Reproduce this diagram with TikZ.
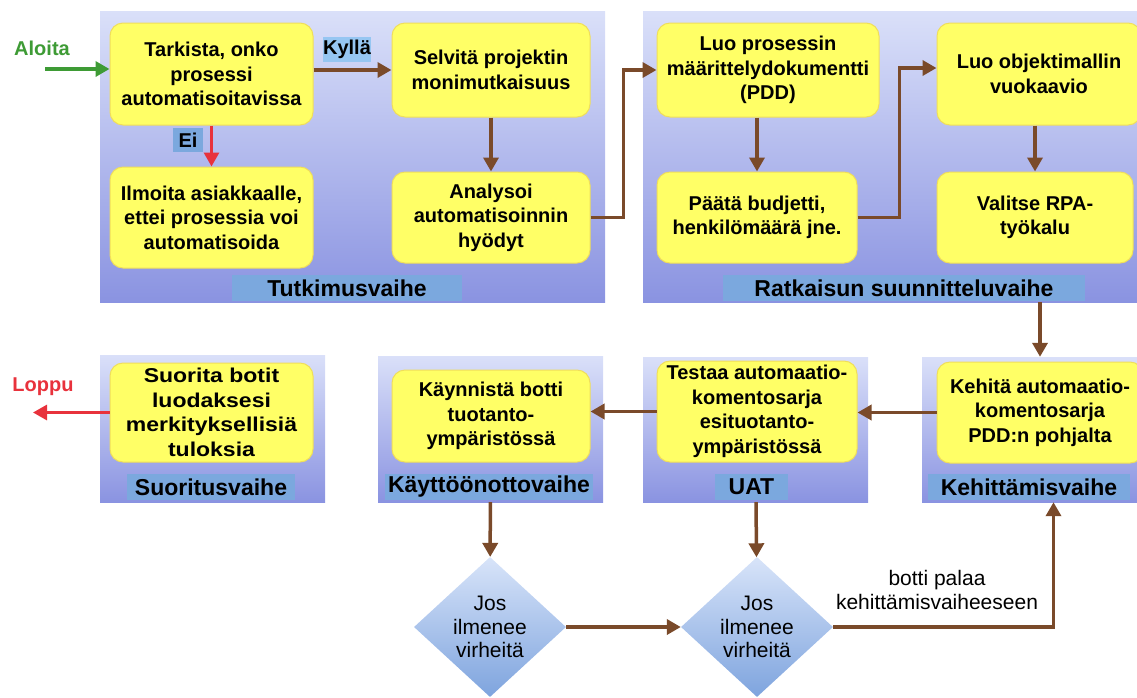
\documentclass[tikz,border=0pt]{standalone}
\usepackage{fontspec}
\setmainfont{Liberation Sans}
\newfontfamily\widefont[FakeStretch=1.15]{Liberation Sans}
\usetikzlibrary{arrows.meta,shapes.geometric}
\definecolor{PanelTop}{RGB}{218,224,249}
\definecolor{PanelBot}{RGB}{138,147,225}
\definecolor{BandBlue}{RGB}{123,168,222}
\definecolor{TagBlue}{RGB}{150,198,242}
\definecolor{BoxYellow}{RGB}{255,255,102}
\definecolor{BoxEdge}{RGB}{240,222,90}
\definecolor{FlowBrown}{RGB}{122,74,42}
\definecolor{StartGreen}{RGB}{62,155,53}
\definecolor{StopRed}{RGB}{232,50,60}
\definecolor{DiaTop}{RGB}{216,228,249}
\definecolor{DiaBot}{RGB}{126,164,222}
\newcommand{\boxfont}{\bfseries\fontsize{20}{24.5}\selectfont}
\newcommand{\bandfont}{\bfseries\fontsize{23}{27}\selectfont}
\newcommand{\notefont}{\fontsize{21}{23.5}\selectfont}

\begin{document}
\begin{tikzpicture}[
    x=1pt, y=-1pt,
    phase/.style={
        rectangle,
        top color=PanelTop,
        bottom color=PanelBot,
        draw=none,
        inner sep=0pt
    },
    band/.style={
        rectangle,
        fill=BandBlue,
        minimum height=26pt,
        inner sep=0pt,
        font=\bandfont
    },
    task/.style={
        rectangle,
        rounded corners=13pt,
        fill=BoxYellow,
        draw=BoxEdge,
        line width=1pt,
        align=center,
        inner sep=0pt,
        font=\boxfont
    },
    tag/.style={
        rectangle,
        fill=TagBlue,
        inner sep=0pt,
        font=\boxfont
    },
    decision/.style={
        diamond,
        top color=DiaTop,
        bottom color=DiaBot,
        draw=none,
        inner sep=0pt,
        minimum width=152pt,
        minimum height=140pt,
        align=center,
        font=\notefont
    },
    flow/.style={
        draw=FlowBrown,
        line width=3.5pt,
        -{Triangle[length=14pt,width=15pt]}
    }
]

\useasboundingbox (0,0) rectangle (1137,697);

% Phase panels
\node[phase, minimum width=505pt, minimum height=291pt] (tutk) at (352.5,156.5) {};
\node[phase, minimum width=494pt, minimum height=291pt] (ratk) at (890,156.5) {};
\node[phase, minimum width=225pt, minimum height=147pt] (suori) at (212.5,428.5) {};
\node[phase, minimum width=225pt, minimum height=146pt] (kayt) at (490.5,429) {};
\node[phase, minimum width=225pt, minimum height=145pt] (uat) at (755.5,429.5) {};
\node[phase, minimum width=215pt, minimum height=145pt] (kehi) at (1029.5,429.5) {};

% Phase names
\node[band, minimum width=230pt] at (347,288) {Tutkimusvaihe};
\node[band, minimum width=362pt] at (904,288) {Ratkaisun suunnitteluvaihe};
\node[band, minimum width=168pt] at (211,487) {Suoritusvaihe};
\node[band, minimum width=208pt] at (489,487) {Käyttöönottovaihe};
\node[band, minimum width=73pt] at (751.5,487) {UAT};
\node[band, minimum width=202pt] at (1029,487) {Kehittämisvaihe};

% Tutkimusvaihe
\node[task, minimum width=203pt, minimum height=102pt] (tark) at (211.5,74)
      {Tarkista, onko\\prosessi\\automatisoitavissa};
\node[task, minimum width=203pt, minimum height=101pt] (ilmo) at (211.5,217.5)
      {Ilmoita asiakkaalle,\\ettei prosessia voi\\automatisoida};
\node[task, minimum width=198pt, minimum height=94pt] (selv) at (491,70)
      {Selvitä projektin\\monimutkaisuus};
\node[task, minimum width=198pt, minimum height=91pt] (anal) at (491,217.5)
      {Analysoi\\automatisoinnin\\hyödyt};

% Ratkaisun suunnitteluvaihe
\node[task, minimum width=222pt, minimum height=94pt] (luop) at (768,70)
      {Luo prosessin\\määrittelydokumentti\\(PDD)};
\node[task, minimum width=200pt, minimum height=91pt] (paat) at (757,217.5)
      {Päätä budjetti,\\henkilömäärä jne.};
\node[task, minimum width=204pt, minimum height=102pt] (luoo) at (1039,74)
      {Luo objektimallin\\vuokaavio};
\node[task, minimum width=196pt, minimum height=91pt] (valr) at (1035,217.5)
      {Valitse RPA-\\työkalu};

% Alarivi
\node[task, minimum width=203pt, minimum height=99pt, font=\boxfont\widefont] (suor) at (211.5,412.5)
      {Suorita botit\\luodaksesi\\merkityksellisiä\\tuloksia};
\node[task, minimum width=198pt, minimum height=92pt] (kayn) at (491,416)
      {Käynnistä botti\\tuotanto-\\ympäristössä};
\node[task, minimum width=200pt, minimum height=101pt] (test) at (757,411.5)
      {Testaa automaatio-\\komentosarja\\esituotanto-\\ympäristössä};
\node[task, minimum width=206pt, minimum height=101pt] (kehb) at (1040,412.5)
      {Kehitä automaatio-\\komentosarja\\PDD:n pohjalta};

% Decisions
\node[decision] (dia1) at (490,627) {Jos\\ilmenee\\virheitä};
\node[decision] (dia2) at (757,627) {Jos\\ilmenee\\virheitä};

% Start and end
\node[font=\boxfont, text=StartGreen] (aloita) at (42,48) {Aloita};
\node[font=\boxfont, text=StopRed] (loppu) at (43,387) {Loppu};
\coordinate (aloitus) at (45,69);
\coordinate (lopetus) at (33,415);

% Connectors
\draw[flow, draw=StartGreen] (aloitus) -- (aloitus -| tark.west);
\draw[flow] (tark.east |- selv) -- (selv);
\draw[flow, draw=StopRed, line width=3pt] (tark) -- (ilmo);
\draw[flow] (selv) -- (anal);
\draw[flow] (anal.east) -- ++(33,0) |- (luop.west);
\draw[flow] (luop.south -| paat) -- (paat);
\draw[flow] (paat.east) -- ++(42,0) |- ([yshift=6pt]luoo.west);
\draw[flow] (luoo.south -| valr) -- (valr);
\draw[flow] (ratk.south -| kehb) -- (kehi.north -| kehb);
\draw[flow] (kehb.west) -- (kehb.west -| test.east);
\draw[flow] (test.west) -- (test.west -| kayn.east);
\draw[flow, draw=StopRed, line width=3pt] (suor.west) -- (suor.west -| lopetus);
\draw[flow] (kayt) -- (dia1);
\draw[flow] (uat) -- (dia2);
\draw[flow] (dia1) -- (dia2);
\draw[flow] (dia2.east) -| ([xshift=24pt]kehi.south);

% Labels
\node[tag, minimum width=48pt, minimum height=25pt] at (347,49.5) {Kyllä};
\node[tag, fill=BandBlue, minimum width=30pt, minimum height=24pt] at (188,140) {Ei};
\node[align=center, font=\notefont] (paluu) at (937,590)
      {botti palaa\\kehittämisvaiheeseen};

\end{tikzpicture}
\end{document}
